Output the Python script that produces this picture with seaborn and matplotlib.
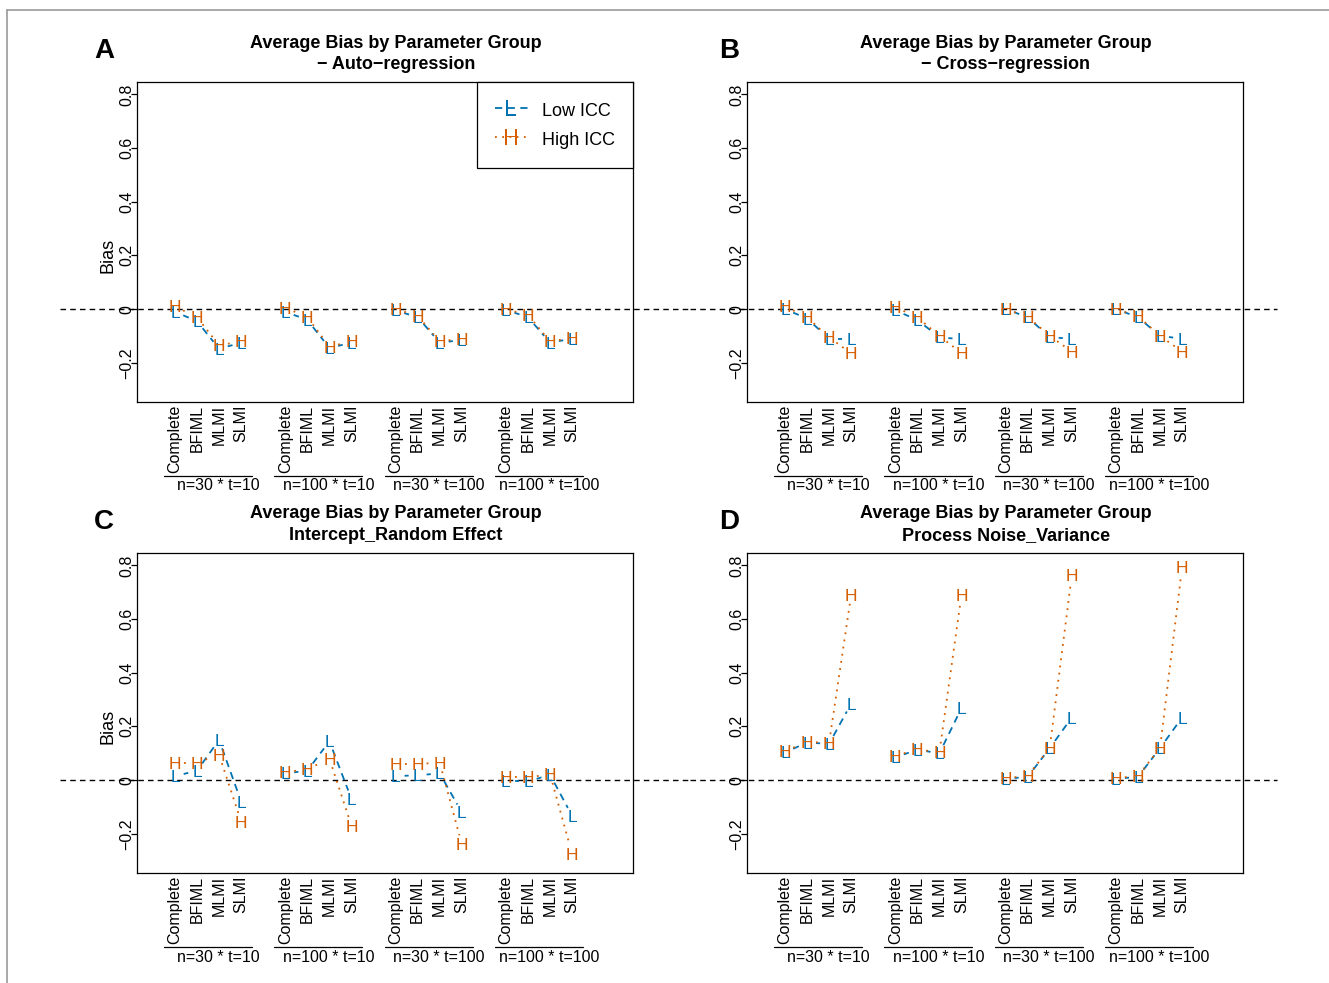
import numpy as np
import pandas as pd
import seaborn as sns
import matplotlib.pyplot as plt
from matplotlib.lines import Line2D
from matplotlib import transforms

# Datos (4 grupos x 4 metodos)
metodos = ['Complete', 'BFIML', 'MLMI', 'SLMI']
grupos = ['n=30 * t=10', 'n=100 * t=10', 'n=30 * t=100', 'n=100 * t=100']

auto_low = [-0.01, -0.045, -0.148, -0.125, -0.01, -0.04, -0.145, -0.125,
            -0.005, -0.03, -0.125, -0.115, -0.003, -0.03, -0.125, -0.11]
auto_high = [0.01, -0.03, -0.135, -0.12, 0.005, -0.03, -0.14, -0.12,
             0.0, -0.025, -0.12, -0.11, 0.0, -0.022, -0.12, -0.108]

cross_low = [0.0, -0.035, -0.11, -0.11, -0.005, -0.04, -0.105, -0.112,
             0.0, -0.03, -0.105, -0.11, 0.0, -0.03, -0.1, -0.11]
cross_high = [0.01, -0.03, -0.105, -0.165, 0.007, -0.03, -0.1, -0.164,
              0.0, -0.028, -0.1, -0.158, 0.0, -0.026, -0.1, -0.158]

icpt_low = [0.015, 0.035, 0.15, -0.08, 0.025, 0.035, 0.145, -0.07,
            0.015, 0.018, 0.025, -0.12, -0.005, -0.005, 0.02, -0.133]
icpt_high = [0.065, 0.065, 0.095, -0.155, 0.03, 0.04, 0.08, -0.17,
             0.06, 0.06, 0.065, -0.238, 0.01, 0.01, 0.022, -0.275]

noise_low = [0.103, 0.14, 0.135, 0.285, 0.085, 0.113, 0.1, 0.268,
             0.005, 0.012, 0.119, 0.233, 0.005, 0.012, 0.119, 0.233]
noise_high = [0.107, 0.143, 0.138, 0.69, 0.09, 0.115, 0.103, 0.69,
              0.008, 0.015, 0.12, 0.763, 0.008, 0.015, 0.12, 0.794]

yticks = [-0.2, 0, 0.2, 0.4, 0.6, 0.8]
ytick_labels = ['\u22120.2', '0', '0.2', '0.4', '0.6', '0.8']

AZUL = '#0072B2'
NARANJA = '#D55E00'

sns.set_theme(style='white')
plt.rcParams['font.family'] = ['Liberation Sans', 'DejaVu Sans']
plt.rcParams['axes.edgecolor'] = 'black'
plt.rcParams['axes.linewidth'] = 0.9
plt.rcParams['text.color'] = 'black'
plt.rcParams['xtick.color'] = 'black'
plt.rcParams['ytick.color'] = 'black'

W, H = 1329, 983
def fx(px):
    return px / W
def fy(py):
    return 1 - py / H

fig = plt.figure(figsize=(W / 100, H / 100), dpi=100)

paneles = [
    dict(letra='A', sub='\u2212 Auto\u2212regression', low=auto_low, high=auto_high,
         left=137, top=82, bias=True, legend=True),
    dict(letra='B', sub='\u2212 Cross\u2212regression', low=cross_low, high=cross_high,
         left=747, top=82, bias=False, legend=False),
    dict(letra='C', sub='Intercept_Random Effect', low=icpt_low, high=icpt_high,
         left=137, top=553, bias=True, legend=False),
    dict(letra='D', sub='Process Noise_Variance', low=noise_low, high=noise_high,
         left=747, top=553, bias=False, legend=False),
]

xpos = [1 + 5 * g + m for g in range(4) for m in range(4)]
GAP = 9  # hueco en pixeles alrededor de cada letra (tipo "b" de R)

for p in paneles:
    aw, ah = 496, 320
    ax = fig.add_axes([fx(p['left']), fy(p['top'] + ah), aw / W, ah / H])
    ax.set_xlim(-0.72, 21.76)
    ax.set_ylim(-0.346, 0.846)

    # linea de referencia en 0 (se sale del panel)
    trans_fig = transforms.blended_transform_factory(fig.transFigure, ax.transData)
    if p['left'] < 500:
        x0, x1 = 60, 690
    else:
        x0, x1 = 690, 1277
    ax.plot([fx(x0), fx(x1)], [0, 0], transform=trans_fig, clip_on=False,
            color='black', ls=(0, (4, 3)), lw=1.0, zorder=1)

    # segmentos recortados alrededor de las letras
    filas = []
    for serie, vals in [('Low ICC', p['low']), ('High ICC', p['high'])]:
        for g in range(4):
            for m in range(3):
                i = 4 * g + m
                a = ax.transData.transform((xpos[i], vals[i]))
                b = ax.transData.transform((xpos[i + 1], vals[i + 1]))
                d = b - a
                L = np.hypot(*d)
                if L <= 2 * GAP:
                    continue
                u = d / L
                qa = ax.transData.inverted().transform(a + u * GAP)
                qb = ax.transData.inverted().transform(b - u * GAP)
                seg = f'{serie}-{i}'
                filas.append(dict(x=qa[0], y=qa[1], serie=serie, seg=seg))
                filas.append(dict(x=qb[0], y=qb[1], serie=serie, seg=seg))
    df_seg = pd.DataFrame(filas)
    sns.lineplot(data=df_seg, x='x', y='y', hue='serie', style='serie', units='seg',
                 estimator=None, sort=False, legend=False, ax=ax, lw=1.3,
                 palette={'Low ICC': AZUL, 'High ICC': NARANJA},
                 dashes={'Low ICC': (4, 3), 'High ICC': (1, 3)})

    for letra, vals, col in [('L', p['low'], AZUL), ('H', p['high'], NARANJA)]:
        for x, y in zip(xpos, vals):
            ax.text(x, y, letra, color=col, fontsize=12.5, ha='center',
                    va='center_baseline', zorder=3)

    ax.set_xlabel('')
    ax.set_ylabel('')
    ax.set_xticks(xpos)
    ax.set_xticklabels(metodos * 4, rotation=90, fontsize=11.5)
    ax.tick_params(axis='x', length=0, pad=2, bottom=False)
    ax.set_yticks(yticks)
    ax.set_yticklabels(ytick_labels, rotation=90, va='center', ha='center', fontsize=11.5)
    ax.tick_params(axis='y', left=True, length=4.3, width=0.9, pad=3.3, direction='out')
    for s in ax.spines.values():
        s.set_visible(True)
        s.set_color('black')
        s.set_linewidth(0.9)

    # etiquetas de grupo bajo el eje x
    trans_x = transforms.blended_transform_factory(ax.transData, ax.transAxes)
    for g in range(4):
        ax.plot([5 * g + 0.5, 5 * g + 4.5], [-74 / ah] * 2, transform=trans_x,
                clip_on=False, color='black', lw=0.9)
        ax.text(5 * g + 2.95, -84 / ah, grupos[g], transform=trans_x,
                ha='center', va='center', fontsize=11.5)

    # titulos y letra del panel
    cx = p['left'] + aw / 2 + 11
    ty = p['top'] - 39
    fig.text(fx(cx), fy(ty), 'Average Bias by Parameter Group', ha='center',
             va='center', fontsize=13, fontweight='bold')
    fig.text(fx(cx), fy(ty + 21.5), p['sub'], ha='center', va='center',
             fontsize=13, fontweight='bold')
    fig.text(fx(p['left'] - 33 if p['left'] < 500 else p['left'] - 18), fy(p['top'] - 31),
             p['letra'], ha='center', va='center', fontsize=20, fontweight='bold')
    if p['bias']:
        fig.text(fx(108), fy(p['top'] + 173.5), 'Bias', rotation=90, ha='center',
                 va='center', fontsize=13)

    if p['legend']:
        handles = [
            Line2D([], [], color=AZUL, ls=(0, (4, 3)), lw=1.3,
                   marker=r'$\mathrm{L}$', markersize=11, markeredgewidth=0),
            Line2D([], [], color=NARANJA, ls=(0, (1, 3)), lw=1.3,
                   marker=r'$\mathrm{H}$', markersize=11, markeredgewidth=0),
        ]
        leg = ax.legend(handles, ['Low ICC', 'High ICC'], loc='upper right',
                        borderaxespad=0, fontsize=13, frameon=True, fancybox=False,
                        edgecolor='black', framealpha=1, handlelength=1.8,
                        handleheight=1.4, handletextpad=0.8, borderpad=1.0,
                        labelspacing=0.45, numpoints=1)
        leg.get_frame().set_linewidth(0.9)

# borde gris de la figura
fig.add_artist(Line2D([fx(7), 1], [fy(10), fy(10)], transform=fig.transFigure,
                      color='#999999', lw=1.2))
fig.add_artist(Line2D([fx(7), fx(7)], [fy(10), 0], transform=fig.transFigure,
                      color='#999999', lw=1.2))

fig.savefig('out.png', dpi=100)
